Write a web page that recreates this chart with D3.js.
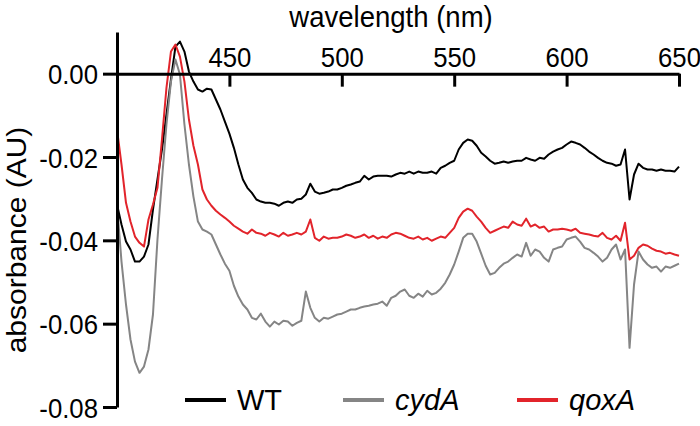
<!DOCTYPE html>
<html><head><meta charset="utf-8">
<script src="https://cdn.jsdelivr.net/npm/d3@7"></script>
<style>html,body{margin:0;padding:0;background:#fff;}svg{display:block;}</style>
</head><body>
<script>
// ---- data ----
const wavelengths = [
400,402,404,406,408,410,412,414,416,418,
420,422,424,426,428,430,432,434,436,438,
440,442,444,446,448,450,452,454,456,458,
460,462,464,466,468,470,472,474,476,478,
480,482,484,486,488,490,492,494,496,498,
500,502,504,506,508,510,512,514,516,518,
520,522,524,526,528,530,532,534,536,538,
540,542,544,546,548,550,552,554,556,558,
560,562,564,566,568,570,572,574,576,578,
580,582,584,586,588,590,592,594,596,598,
600,602,604,606,608,610,612,614,616,618,
620,622,624,626,628,630,632,634,636,638,
640,642,644,646,648,650];

const wt = [
-0.0314,-0.0362,-0.0403,-0.0422,-0.0451,-0.0451,-0.0439,-0.0410,-0.0326,-0.0254,
-0.0182,-0.0098,-0.0014,0.0065,0.0077,0.0053,0.0005,-0.0019,-0.0038,-0.0043,
-0.0036,-0.0038,-0.0062,-0.0086,-0.0115,-0.0144,-0.0178,-0.0218,-0.0254,-0.0274,
-0.0286,-0.0302,-0.0307,-0.0310,-0.0310,-0.0312,-0.0317,-0.0310,-0.0307,-0.0310,
-0.0302,-0.0300,-0.0290,-0.0264,-0.0283,-0.0288,-0.0286,-0.0283,-0.0278,-0.0278,
-0.0274,-0.0269,-0.0266,-0.0262,-0.0259,-0.0245,-0.0254,-0.0247,-0.0245,-0.0245,
-0.0245,-0.0247,-0.0242,-0.0238,-0.0240,-0.0235,-0.0240,-0.0235,-0.0238,-0.0238,
-0.0235,-0.0240,-0.0226,-0.0221,-0.0214,-0.0209,-0.0182,-0.0166,-0.0158,-0.0161,
-0.0173,-0.0190,-0.0199,-0.0209,-0.0216,-0.0214,-0.0211,-0.0214,-0.0211,-0.0209,
-0.0209,-0.0202,-0.0206,-0.0209,-0.0202,-0.0204,-0.0194,-0.0187,-0.0182,-0.0178,
-0.0170,-0.0163,-0.0166,-0.0170,-0.0178,-0.0187,-0.0194,-0.0202,-0.0209,-0.0214,
-0.0216,-0.0221,-0.0218,-0.0182,-0.0302,-0.0242,-0.0216,-0.0226,-0.0230,-0.0230,
-0.0233,-0.0230,-0.0233,-0.0233,-0.0235,-0.0223];

const cydA = [
-0.0314,-0.0451,-0.0554,-0.0638,-0.0691,-0.0718,-0.0703,-0.0662,-0.0578,-0.0398,
-0.0254,-0.0122,-0.0019,0.0034,-0.0002,-0.0122,-0.0218,-0.0295,-0.0355,-0.0374,
-0.0379,-0.0386,-0.0410,-0.0434,-0.0456,-0.0473,-0.0509,-0.0535,-0.0554,-0.0566,
-0.0586,-0.0590,-0.0576,-0.0595,-0.0607,-0.0595,-0.0602,-0.0593,-0.0595,-0.0605,
-0.0598,-0.0593,-0.0523,-0.0562,-0.0586,-0.0595,-0.0586,-0.0588,-0.0583,-0.0578,
-0.0576,-0.0571,-0.0566,-0.0566,-0.0562,-0.0559,-0.0557,-0.0554,-0.0552,-0.0547,
-0.0557,-0.0538,-0.0533,-0.0523,-0.0518,-0.0533,-0.0538,-0.0528,-0.0535,-0.0521,
-0.0530,-0.0526,-0.0516,-0.0502,-0.0482,-0.0458,-0.0427,-0.0394,-0.0384,-0.0384,
-0.0403,-0.0432,-0.0461,-0.0482,-0.0478,-0.0466,-0.0456,-0.0451,-0.0442,-0.0434,
-0.0439,-0.0406,-0.0437,-0.0422,-0.0427,-0.0442,-0.0451,-0.0422,-0.0418,-0.0415,
-0.0398,-0.0394,-0.0391,-0.0403,-0.0418,-0.0422,-0.0430,-0.0439,-0.0451,-0.0442,
-0.0422,-0.0410,-0.0446,-0.0422,-0.0658,-0.0506,-0.0427,-0.0446,-0.0458,-0.0466,
-0.0463,-0.0475,-0.0463,-0.0466,-0.0461,-0.0456];

const qoxA = [
-0.0134,-0.0218,-0.0310,-0.0355,-0.0391,-0.0406,-0.0415,-0.0350,-0.0314,-0.0274,
-0.0158,-0.0034,0.0053,0.0070,0.0041,-0.0019,-0.0110,-0.0173,-0.0218,-0.0278,
-0.0302,-0.0317,-0.0329,-0.0338,-0.0346,-0.0355,-0.0365,-0.0372,-0.0379,-0.0384,
-0.0374,-0.0382,-0.0384,-0.0389,-0.0382,-0.0386,-0.0391,-0.0382,-0.0389,-0.0386,
-0.0382,-0.0386,-0.0379,-0.0350,-0.0394,-0.0401,-0.0391,-0.0396,-0.0394,-0.0394,
-0.0391,-0.0386,-0.0389,-0.0394,-0.0391,-0.0386,-0.0394,-0.0389,-0.0396,-0.0391,
-0.0394,-0.0386,-0.0382,-0.0384,-0.0389,-0.0394,-0.0396,-0.0391,-0.0398,-0.0394,
-0.0401,-0.0396,-0.0391,-0.0394,-0.0382,-0.0370,-0.0346,-0.0331,-0.0324,-0.0329,
-0.0343,-0.0355,-0.0370,-0.0382,-0.0377,-0.0372,-0.0367,-0.0370,-0.0355,-0.0362,
-0.0365,-0.0348,-0.0367,-0.0362,-0.0370,-0.0367,-0.0379,-0.0374,-0.0374,-0.0372,
-0.0374,-0.0377,-0.0372,-0.0382,-0.0384,-0.0386,-0.0389,-0.0391,-0.0382,-0.0394,
-0.0398,-0.0389,-0.0401,-0.0358,-0.0446,-0.0437,-0.0418,-0.0410,-0.0413,-0.0420,
-0.0425,-0.0427,-0.0432,-0.0430,-0.0434,-0.0437];

const seriesNames = ["WT", "cydA", "qoxA"];
const xTickValues = [450, 500, 550, 600, 650];
const yTickValues = [0.00, -0.02, -0.04, -0.06, -0.08];
const xTitle = "wavelength (nm)";
const yTitle = "absorbance (AU)";

// ---- drawing ----
const W = 700, H = 426;
const colors = {WT: "#000000", cydA: "#858585", qoxA: "#e2242b"};
const FONT = "'Liberation Sans', Arial, Helvetica, sans-serif";
const SX = 0.92;

const svg = d3.select("body").append("svg").attr("width", W).attr("height", H);
svg.append("rect").attr("width", W).attr("height", H).attr("fill", "#fff");

const x = d3.scaleLinear().domain([400, 650]).range([117, 679]);
const y = d3.scaleLinear().domain([-0.08, 0.01]).range([407, 32]);

const dataBy = {WT: wt, cydA: cydA, qoxA: qoxA};
const line = d3.line().x(d => x(d[0])).y(d => y(d[1]));

// series lines
["WT", "cydA", "qoxA"].forEach(name => {
  const pts = wavelengths.map((w, i) => [w, dataBy[name][i]]);
  svg.append("path").datum(pts)
    .attr("d", line)
    .attr("fill", "none")
    .attr("stroke", colors[name])
    .attr("stroke-width", 2)
    .attr("stroke-linejoin", "round");
});

// y axis
const gy = svg.append("g").attr("transform", `translate(${x(400)},0)`)
  .call(d3.axisLeft(y).tickValues(yTickValues).tickSize(14).tickSizeOuter(0)
    .tickFormat(d => d.toFixed(2)));
gy.select(".domain").attr("stroke", "#000").attr("stroke-width", 3);
gy.selectAll(".tick line").attr("stroke", "#000").attr("stroke-width", 3);
gy.selectAll(".tick text")
  .attr("x", 0).attr("dy", 0)
  .attr("transform", `translate(-19,10) scale(${SX},1)`)
  .attr("font-family", FONT).attr("font-size", 28).attr("fill", "#000");

// x axis (at y = 0), ticks down, labels above
const gx = svg.append("g").attr("transform", `translate(0,${y(0)})`)
  .call(d3.axisBottom(x).tickValues(xTickValues).tickSize(13).tickSizeOuter(0)
    .tickFormat(d3.format("d")));
gx.select(".domain").attr("stroke", "#000").attr("stroke-width", 3);
gx.selectAll(".tick line").attr("stroke", "#000").attr("stroke-width", 3);
gx.selectAll(".tick text")
  .attr("y", 0).attr("dy", 0)
  .attr("transform", `translate(0,-7) scale(${SX},1)`)
  .attr("font-family", FONT).attr("font-size", 28).attr("fill", "#000");

// titles
svg.append("text").text(xTitle)
  .attr("transform", `translate(391,27) scale(0.95,1)`)
  .attr("text-anchor", "middle")
  .attr("font-family", FONT).attr("font-size", 29).attr("fill", "#000");
svg.append("text").text(yTitle)
  .attr("transform", `translate(26,240) rotate(-90) scale(1,${SX})`)
  .attr("text-anchor", "middle")
  .attr("font-family", FONT).attr("font-size", 30).attr("fill", "#000");

// legend
const legendX = [185, 343, 517];
seriesNames.forEach((name, i) => {
  const lx = legendX[i];
  svg.append("line").attr("x1", lx).attr("x2", lx + 41)
    .attr("y1", 400).attr("y2", 400)
    .attr("stroke", colors[name]).attr("stroke-width", 4);
  svg.append("text").text(name)
    .attr("transform", `translate(${lx + 52},410)`)
    .attr("font-family", FONT).attr("font-size", 29)
    .attr("font-style", name === "WT" ? "normal" : "italic")
    .attr("fill", "#000");
});
</script>
</body></html>
